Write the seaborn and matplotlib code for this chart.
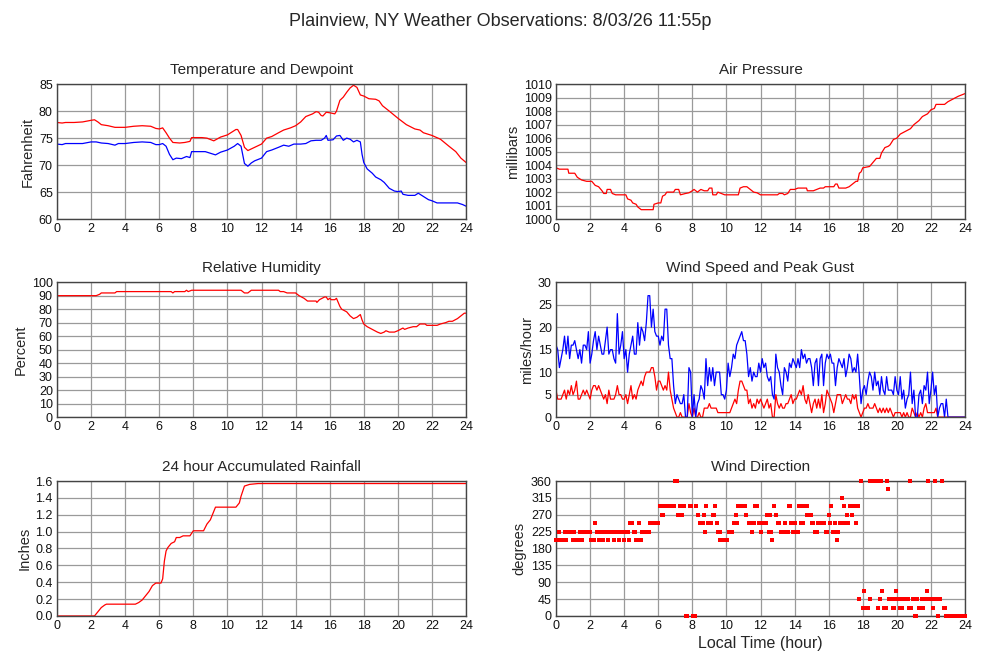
import matplotlib
matplotlib.use("Agg")
import matplotlib.pyplot as plt
import numpy as np
import pandas as pd
import seaborn as sns

# ---- temperature / dewpoint (deg F) ----
temp_hours = [0, 0.3, 0.5, 1.0, 1.5, 2.0, 2.2, 2.4, 2.6, 3.0, 3.4, 4.0, 4.5, 5.0, 5.5, 5.8, 6.0,
              6.2, 6.4, 6.6, 6.8, 7.2, 7.5, 7.8, 7.9, 8.5, 8.8, 9.2, 9.6, 10.0, 10.3, 10.5, 10.6,
              10.8, 11.0, 11.2, 11.4, 11.6, 12.0, 12.3, 12.6, 13.0, 13.3, 13.7, 14.0, 14.3, 14.6,
              15.0, 15.2, 15.35, 15.5, 15.6, 15.8, 16.0, 16.3, 16.4, 16.6, 16.8, 17.0, 17.2, 17.4,
              17.6, 17.8, 18.0, 18.3, 18.7, 18.9, 19.1, 19.5, 20.0, 20.5, 21.0, 21.3, 21.5, 22.0,
              22.5, 23.0, 23.4, 23.7, 24.0]
temp_f = [77.9, 77.8, 77.9, 77.9, 78.0, 78.3, 78.4, 78.0, 77.5, 77.3, 77.0, 77.0, 77.2, 77.3, 77.2,
          76.8, 76.7, 76.9, 76.0, 75.0, 74.2, 74.1, 74.2, 74.4, 75.1, 75.1, 75.0, 74.5, 75.2, 75.6,
          76.2, 76.6, 76.6, 75.5, 73.3, 72.7, 73.0, 73.3, 73.9, 75.0, 75.3, 76.0, 76.5, 76.9, 77.3,
          78.0, 79.0, 79.5, 79.9, 79.8, 79.2, 79.1, 79.8, 79.7, 79.5, 80.0, 82.0, 82.6, 83.5, 84.3,
          84.8, 84.4, 83.0, 82.8, 82.3, 82.2, 81.9, 81.0, 80.0, 78.7, 77.5, 76.7, 76.5, 76.0, 75.5,
          74.8, 73.5, 72.5, 71.3, 70.5]

dew_hours = [0, 0.3, 0.5, 1.0, 1.5, 2.0, 2.3, 2.6, 3.0, 3.4, 3.6, 4.0, 4.5, 5.0, 5.5, 5.8, 6.0,
             6.2, 6.4, 6.6, 6.8, 7.0, 7.3, 7.6, 7.8, 7.9, 8.3, 8.7, 9.0, 9.3, 9.6, 10.0, 10.4,
             10.6, 10.8, 11.0, 11.2, 11.4, 11.6, 12.0, 12.3, 12.6, 13.0, 13.3, 13.6, 13.9, 14.3,
             14.6, 14.9, 15.2, 15.5, 15.7, 15.8, 15.9, 16.2, 16.4, 16.6, 16.8, 17.0, 17.2, 17.4,
             17.6, 17.8, 17.9, 18.0, 18.2, 18.5, 18.7, 19.0, 19.2, 19.5, 19.8, 20.0, 20.2, 20.3,
             20.6, 21.0, 21.2, 21.5, 21.8, 22.0, 22.3, 22.6, 23.0, 23.5, 23.8, 24.0]
dew_f = [73.9, 73.8, 74.0, 74.0, 74.0, 74.3, 74.3, 74.1, 74.0, 73.7, 74.0, 74.0, 74.2, 74.3, 74.2,
         73.8, 73.8, 74.0, 73.5, 72.0, 71.0, 71.3, 71.2, 71.6, 71.4, 72.5, 72.5, 72.5, 72.2, 71.9,
         72.4, 72.8, 73.5, 74.0, 73.5, 70.3, 69.8, 70.4, 70.8, 71.3, 72.5, 72.8, 73.3, 73.7, 73.5,
         73.9, 73.9, 74.0, 74.5, 74.6, 74.6, 75.0, 75.5, 74.6, 74.7, 75.4, 75.5, 74.6, 75.0, 74.8,
         74.3, 74.6, 74.3, 72.0, 70.5, 69.3, 68.5, 67.8, 67.3, 66.8, 65.7, 65.2, 65.1, 65.2, 64.6,
         64.4, 64.4, 64.8, 64.2, 63.6, 63.4, 63.0, 63.0, 63.0, 63.0, 62.7, 62.4]

# ---- air pressure (mbar) ----
pres_hours = [0, 0.2, 0.7, 0.75, 1.1, 1.25, 1.5, 1.8, 2.1, 2.3, 2.5, 2.7, 2.8, 2.95, 3.0, 3.2, 3.3,
              3.5, 4.1, 4.2, 4.4, 4.5, 4.7, 4.8, 5.0, 5.7, 5.75, 6.0, 6.15, 6.25, 6.4, 6.5, 6.9,
              7.0, 7.2, 7.3, 7.6, 7.8, 8.0, 8.1, 8.2, 8.3, 8.5, 8.7, 8.9, 9.0, 9.15, 9.2, 9.4, 9.5,
              9.7, 9.9, 10.0, 10.7, 10.8, 11.0, 11.2, 11.4, 11.6, 11.8, 12.0, 12.5, 13.0, 13.1,
              13.3, 13.4, 13.6, 13.75, 14.0, 14.2, 14.5, 14.7, 14.75, 15.1, 15.3, 15.5, 15.7, 15.8,
              16.3, 16.4, 16.5, 16.6, 17.0, 17.2, 17.4, 17.6, 17.7, 17.8, 17.9, 18.0, 18.4, 18.6,
              18.8, 19.0, 19.1, 19.3, 19.5, 19.6, 19.8, 20.0, 20.2, 20.5, 20.8, 21.0, 21.3, 21.5,
              21.8, 22.0, 22.2, 22.3, 22.8, 23.0, 23.3, 23.6, 23.8, 24.0]
pres_mb = [1003.8, 1003.7, 1003.7, 1003.4, 1003.4, 1003.1, 1002.9, 1002.8, 1002.8, 1002.5, 1002.4,
           1002.1, 1001.9, 1001.9, 1002.2, 1002.2, 1001.9, 1001.8, 1001.8, 1001.5, 1001.4, 1001.2,
           1001.1, 1000.9, 1000.7, 1000.7, 1001.1, 1001.2, 1001.2, 1001.7, 1001.8, 1002.0, 1002.0,
           1002.2, 1002.2, 1001.8, 1001.9, 1001.95, 1002.1, 1002.2, 1002.1, 1002.0, 1002.2, 1002.1,
           1002.1, 1002.3, 1002.3, 1001.8, 1001.8, 1002.0, 1001.9, 1001.8, 1001.8, 1001.8, 1002.3,
           1002.4, 1002.4, 1002.2, 1002.0, 1001.95, 1001.8, 1001.8, 1001.8, 1001.9, 1001.9, 1001.8,
           1001.9, 1002.2, 1002.2, 1002.3, 1002.3, 1002.3, 1002.1, 1002.1, 1002.2, 1002.3, 1002.3,
           1002.4, 1002.4, 1002.6, 1002.6, 1002.3, 1002.3, 1002.4, 1002.6, 1002.8, 1002.8, 1003.4,
           1003.5, 1003.8, 1003.9, 1004.2, 1004.5, 1004.5, 1004.9, 1005.3, 1005.4, 1005.5, 1005.9,
           1006.0, 1006.3, 1006.5, 1006.7, 1007.0, 1007.3, 1007.6, 1007.8, 1008.1, 1008.2, 1008.5,
           1008.5, 1008.7, 1008.9, 1009.1, 1009.2, 1009.3]

# ---- relative humidity (%) ----
rh_hours = [0, 2.3, 2.5, 2.6, 3.4, 3.5, 6.7, 6.8, 6.9, 7.5, 7.6, 7.7, 7.9, 10.8, 11.0, 11.2, 11.4,
            13.0, 13.1, 13.3, 13.5, 14.0, 14.2, 14.5, 14.7, 15.2, 15.25, 15.4, 15.7, 15.8, 15.9,
            16.0, 16.1, 16.3, 16.4, 16.5, 16.6, 16.7, 17.0, 17.2, 17.4, 17.6, 17.8, 17.9, 18.0,
            18.2, 18.5, 18.8, 19.0, 19.2, 19.3, 19.5, 19.8, 20.0, 20.3, 20.4, 20.6, 20.9, 21.1,
            21.3, 21.6, 21.7, 22.3, 22.5, 22.8, 23.0, 23.2, 23.5, 23.7, 23.9, 24.0]
rh_pct = [90, 90, 91, 92, 92, 93, 93, 92, 93, 93, 94, 93, 94, 94, 92, 92, 94, 94, 93, 93, 92, 92,
          90, 88, 86, 86, 85, 87, 89, 89, 87, 88, 87, 87, 88, 85, 82, 80, 78, 75, 73, 74, 76, 72,
          69, 67, 65, 63, 62, 63, 64, 63, 63, 64, 66, 65, 66, 67, 67, 69, 69, 68, 68, 69, 70, 71,
          71, 73, 75, 77, 77]

# ---- wind speed and peak gust (mph), every 0.1 h ----
wind_hours = [round(h * 0.1, 1) for h in range(241)]
wind_speed = [6, 4, 4, 4, 5, 6, 4, 6, 5, 7, 5, 6, 8, 4, 4, 5, 6, 5, 6, 5,
              4, 6, 7, 7, 6, 7, 6, 5, 4, 5, 3, 6, 4, 4, 4, 5, 7, 5, 5, 4,
              4, 5, 3, 5, 7, 4, 5, 4, 6, 7, 8, 7, 9, 10, 10, 10, 11, 11, 9, 6,
              8, 8, 7, 6, 7, 6, 10, 6, 4, 2, 1, 0, 0, 1, 0, 0, 0, 0, 3, 1,
              0, 2, 0, 0, 1, 0, 0, 2, 2, 2, 3, 2, 2, 2, 2, 1, 1, 1, 1, 1,
              1, 1, 1, 2, 3, 4, 3, 6, 8, 8, 7, 6, 6, 3, 4, 2, 3, 2, 4, 3,
              4, 3, 2, 3, 4, 2, 3, 0, 0, 5, 3, 2, 3, 2, 2, 3, 3, 4, 5, 3,
              4, 4, 5, 6, 5, 7, 4, 3, 5, 3, 1, 3, 4, 2, 4, 2, 5, 1, 3, 6,
              5, 4, 3, 1, 3, 5, 5, 5, 3, 4, 5, 4, 4, 3, 5, 4, 5, 2, 1, 0,
              1, 2, 2, 3, 2, 2, 2, 3, 2, 1, 2, 1, 2, 1, 2, 1, 2, 1, 0, 1,
              1, 1, 1, 0, 1, 0, 1, 0, 0, 2, 1, 0, 1, 0, 1, 0, 2, 3, 1, 1,
              1, 1, 1, 2, 0, 0, 0, 0, 0, 0, 0, 0, 0, 0, 0, 0, 0, 0, 0, 0,
              0]
wind_gust = [16, 15, 11, 13, 15, 18, 14, 18, 13, 16, 16, 17, 15, 13, 15, 12, 16, 16, 15, 19,
             12, 14, 17, 19, 15, 18, 16, 14, 14, 17, 20, 14, 15, 15, 13, 12, 23, 14, 16, 19,
             13, 15, 10, 14, 16, 18, 14, 14, 21, 16, 20, 19, 17, 21, 27, 27, 20, 24, 19, 18,
             18, 16, 18, 17, 24, 24, 16, 13, 13, 7, 3, 5, 4, 3, 3, 5, 0, 0, 11, 10,
             0, 5, 0, 3, 4, 7, 6, 4, 13, 7, 11, 8, 11, 7, 10, 10, 10, 5, 5, 4,
             6, 12, 9, 11, 14, 13, 16, 17, 18, 19, 17, 17, 14, 9, 11, 8, 10, 9, 9, 12,
             10, 13, 11, 12, 9, 8, 9, 5, 4, 14, 11, 10, 7, 5, 11, 10, 8, 12, 11, 13,
             12, 11, 13, 11, 15, 13, 14, 12, 13, 13, 11, 7, 12, 13, 7, 13, 14, 7, 12, 14,
             13, 14, 12, 12, 7, 11, 13, 12, 11, 13, 9, 11, 14, 13, 10, 11, 10, 14, 9, 3,
             6, 7, 5, 8, 10, 9, 6, 10, 7, 8, 5, 9, 6, 5, 9, 6, 6, 6, 5, 9,
             6, 5, 9, 4, 6, 2, 4, 5, 10, 3, 6, 0, 0, 5, 6, 3, 7, 6, 10, 3,
             6, 10, 5, 7, 0, 2, 3, 3, 0, 4, 0, 0, 0, 0, 0, 0, 0, 0, 0, 0,
             0]

# ---- 24 hour accumulated rainfall (inches) ----
rain_hours = [0, 2.2, 2.4, 2.6, 2.8, 2.9, 4.6, 4.8, 5.0, 5.2, 5.4, 5.6, 5.8, 6.1, 6.2, 6.3, 6.4,
              6.5, 6.7, 6.9, 7.0, 7.2, 7.4, 7.8, 8.0, 8.6, 8.8, 9.0, 9.2, 9.3, 10.5, 10.7, 10.8,
              11.0, 11.3, 11.8, 24.0]
rain_in = [0, 0, 0.05, 0.10, 0.13, 0.14, 0.14, 0.16, 0.19, 0.24, 0.29, 0.36, 0.39, 0.39, 0.44,
           0.65, 0.77, 0.81, 0.86, 0.88, 0.93, 0.93, 0.95, 0.95, 1.01, 1.01, 1.09, 1.14, 1.24,
           1.29, 1.29, 1.34, 1.42, 1.54, 1.56, 1.57, 1.57]

# ---- wind direction (degrees) ----
dir_hours = [0.0, 0.1, 0.15, 0.2, 0.3, 0.4, 0.5, 0.55, 0.6, 0.7, 0.8, 0.9, 1.0, 1.05, 1.1, 1.2,
             1.3, 1.4, 1.5, 1.6, 1.7, 1.8, 1.9, 2.0, 2.05, 2.15, 2.25, 2.3, 2.4, 2.5, 2.55, 2.65,
             2.75, 2.8, 2.9, 3.0, 3.05, 3.15, 3.25, 3.35, 3.4, 3.5, 3.6, 3.7, 3.75, 3.85, 3.95,
             4.0, 4.1, 4.2, 4.3, 4.35, 4.45, 4.55, 4.65, 4.7, 4.8, 4.85, 4.9, 5.0, 5.05, 5.15,
             5.25, 5.35, 5.45, 5.5, 5.6, 5.7, 5.8, 5.9, 6.0, 6.1, 6.2, 6.3, 6.35, 6.45, 6.55,
             6.65, 6.75, 6.85, 6.95, 7.0, 7.1, 7.15, 7.25, 7.3, 7.4, 7.5, 7.6, 7.7, 7.85, 7.95,
             8.05, 8.15, 8.2, 8.35, 8.45, 8.55, 8.65, 8.7, 8.75, 8.8, 8.9, 9.0, 9.1, 9.2, 9.3,
             9.35, 9.45, 9.5, 9.6, 9.65, 9.75, 9.85, 9.95, 10.05, 10.15, 10.25, 10.35, 10.45,
             10.55, 10.65, 10.7, 10.8, 10.9, 11.0, 11.1, 11.15, 11.3, 11.4, 11.5, 11.6, 11.7,
             11.8, 11.9, 12.0, 12.1, 12.2, 12.3, 12.4, 12.5, 12.55, 12.6, 12.7, 12.8, 12.9, 13.0,
             13.1, 13.2, 13.3, 13.4, 13.45, 13.5, 13.6, 13.7, 13.75, 13.8, 13.9, 14.0, 14.1, 14.2,
             14.25, 14.35, 14.4, 14.5, 14.6, 14.7, 14.75, 14.85, 14.95, 15.0, 15.1, 15.2, 15.3,
             15.35, 15.45, 15.55, 15.65, 15.75, 15.85, 15.9, 16.0, 16.05, 16.15, 16.25, 16.35,
             16.45, 16.5, 16.55, 16.65, 16.75, 16.8, 16.9, 16.95, 17.05, 17.1, 17.15, 17.25,
             17.35, 17.4, 17.5, 17.6, 17.65, 17.75, 17.8, 17.9, 18.0, 18.1, 18.15, 18.25, 18.3,
             18.4, 18.45, 18.55, 18.65, 18.75, 18.85, 18.9, 19.0, 19.05, 19.15, 19.25, 19.35,
             19.4, 19.5, 19.55, 19.65, 19.75, 19.85, 19.9, 19.95, 20.05, 20.15, 20.2, 20.3, 20.35,
             20.45, 20.55, 20.65, 20.7, 20.8, 20.85, 20.95, 21.05, 21.1, 21.15, 21.2, 21.3, 21.4,
             21.45, 21.55, 21.6, 21.7, 21.75, 21.85, 21.9, 22.0, 22.05, 22.15, 22.25, 22.3, 22.4,
             22.45, 22.55, 22.65, 22.75, 22.85, 22.9, 23.0, 23.1, 23.2, 23.3, 23.4, 23.5, 23.6,
             23.7, 23.8, 23.9, 24.0]
dir_deg = [202.5, 202.5, 225, 202.5, 202.5, 202.5, 225, 202.5, 202.5, 225, 225, 225, 202.5, 225,
           202.5, 202.5, 202.5, 225, 202.5, 225, 225, 225, 225, 225, 202.5, 202.5, 202.5, 247.5,
           225, 202.5, 225, 225, 202.5, 225, 225, 225, 202.5, 225, 225, 225, 202.5, 225, 225,
           202.5, 225, 225, 225, 202.5, 225, 225, 202.5, 247.5, 247.5, 225, 225, 202.5, 202.5,
           247.5, 202.5, 202.5, 225, 225, 225, 225, 225, 247.5, 247.5, 247.5, 247.5, 247.5, 247.5,
           292.5, 270, 270, 292.5, 292.5, 292.5, 292.5, 292.5, 292.5, 292.5, 360, 360, 270, 270,
           292.5, 270, 292.5, 0, 0, 292.5, 292.5, 0, 0, 292.5, 270, 247.5, 247.5, 247.5, 270, 225,
           292.5, 247.5, 247.5, 247.5, 270, 270, 292.5, 247.5, 225, 225, 202.5, 202.5, 202.5,
           202.5, 202.5, 225, 225, 225, 247.5, 270, 247.5, 292.5, 292.5, 292.5, 292.5, 292.5, 270,
           247.5, 247.5, 225, 247.5, 292.5, 292.5, 247.5, 225, 247.5, 247.5, 247.5, 270, 225, 270,
           225, 202.5, 292.5, 270, 247.5, 247.5, 225, 225, 225, 247.5, 225, 225, 292.5, 292.5,
           247.5, 225, 247.5, 225, 225, 292.5, 292.5, 247.5, 247.5, 292.5, 292.5, 270, 270, 270,
           247.5, 247.5, 225, 225, 247.5, 247.5, 247.5, 247.5, 247.5, 225, 225, 270, 247.5, 292.5,
           225, 247.5, 225, 202.5, 225, 247.5, 247.5, 315, 292.5, 247.5, 247.5, 270, 247.5, 292.5,
           270, 292.5, 292.5, 247.5, 292.5, 292.5, 45, 360, 22.5, 67.5, 22.5, 22.5, 22.5, 45, 360,
           360, 360, 360, 360, 22.5, 45, 360, 67.5, 22.5, 22.5, 360, 337.5, 45, 45, 22.5, 22.5,
           45, 67.5, 45, 45, 22.5, 22.5, 45, 45, 45, 45, 22.5, 360, 22.5, 45, 0, 45, 0, 45, 22.5,
           22.5, 45, 22.5, 45, 45, 67.5, 360, 45, 45, 45, 22.5, 360, 45, 0, 45, 45, 360, 22.5,
           22.5, 0, 0, 0, 0, 0, 0, 0, 0, 0, 0, 0, 0]

hour_ticks = list(range(0, 25, 2))

sns.set_style("white")
plt.rcParams["font.family"] = ["Liberation Sans", "DejaVu Sans"]

fig = plt.figure(figsize=(10, 6.6), dpi=100)
fig.suptitle("Plainview, NY Weather Observations: 8/03/26 11:55p", fontsize=13, y=0.98)

col_left = [0.057, 0.556]
row_bottom = [0.668, 0.368, 0.0667]
w, h = 0.409, 0.2045


def style_axes(ax, title, ylabel, yticks):
    ax.set_xlim(0, 24)
    ax.set_ylim(yticks[0], yticks[-1])
    ax.set_xticks(hour_ticks)
    ax.set_yticks(yticks)
    ax.grid(True, color="#9a9a9a", linewidth=0.9)
    ax.set_axisbelow(True)
    for sp in ax.spines.values():
        sp.set_color("#444444")
        sp.set_linewidth(1.0)
    ax.tick_params(length=0, labelsize=9, pad=3, colors="#111111")
    ax.set_title(title, fontsize=11, pad=7)
    ax.set_ylabel(ylabel, fontsize=10.5, labelpad=3)
    ax.set_xlabel("")


ax = fig.add_axes([col_left[0], row_bottom[0], w, h])
sns.lineplot(x=temp_hours, y=temp_f, ax=ax, color="#ff0000", linewidth=0.9)
sns.lineplot(x=dew_hours, y=dew_f, ax=ax, color="#0000ff", linewidth=0.9)
style_axes(ax, "Temperature and Dewpoint", "Fahrenheit", [60, 65, 70, 75, 80, 85])

ax = fig.add_axes([col_left[1], row_bottom[0], w, h])
sns.lineplot(x=pres_hours, y=pres_mb, ax=ax, color="#ff0000", linewidth=0.9)
style_axes(ax, "Air Pressure", "millibars", list(range(1000, 1011)))

ax = fig.add_axes([col_left[0], row_bottom[1], w, h])
sns.lineplot(x=rh_hours, y=rh_pct, ax=ax, color="#ff0000", linewidth=0.9)
style_axes(ax, "Relative Humidity", "Percent", list(range(0, 101, 10)))

ax = fig.add_axes([col_left[1], row_bottom[1], w, h])
sns.lineplot(x=wind_hours, y=wind_speed, ax=ax, color="#ff0000", linewidth=0.9)
sns.lineplot(x=wind_hours, y=wind_gust, ax=ax, color="#0000ff", linewidth=0.9)
style_axes(ax, "Wind Speed and Peak Gust", "miles/hour", [0, 5, 10, 15, 20, 25, 30])

ax = fig.add_axes([col_left[0], row_bottom[2], w, h])
sns.lineplot(x=rain_hours, y=rain_in, ax=ax, color="#ff0000", linewidth=0.9)
style_axes(ax, "24 hour Accumulated Rainfall", "Inches",
           [0.0, 0.2, 0.4, 0.6, 0.8, 1.0, 1.2, 1.4, 1.6])
ax.yaxis.set_major_formatter(matplotlib.ticker.FormatStrFormatter("%.1f"))

ax = fig.add_axes([col_left[1], row_bottom[2], w, h])
sns.scatterplot(x=dir_hours, y=dir_deg, ax=ax, color="#ff0000", marker="s", s=5,
                linewidth=0, clip_on=False, zorder=3)
style_axes(ax, "Wind Direction", "degrees", list(range(0, 361, 45)))
ax.set_xlabel("Local Time (hour)", fontsize=11.5, labelpad=3)

fig.savefig("out.png", dpi=100)
